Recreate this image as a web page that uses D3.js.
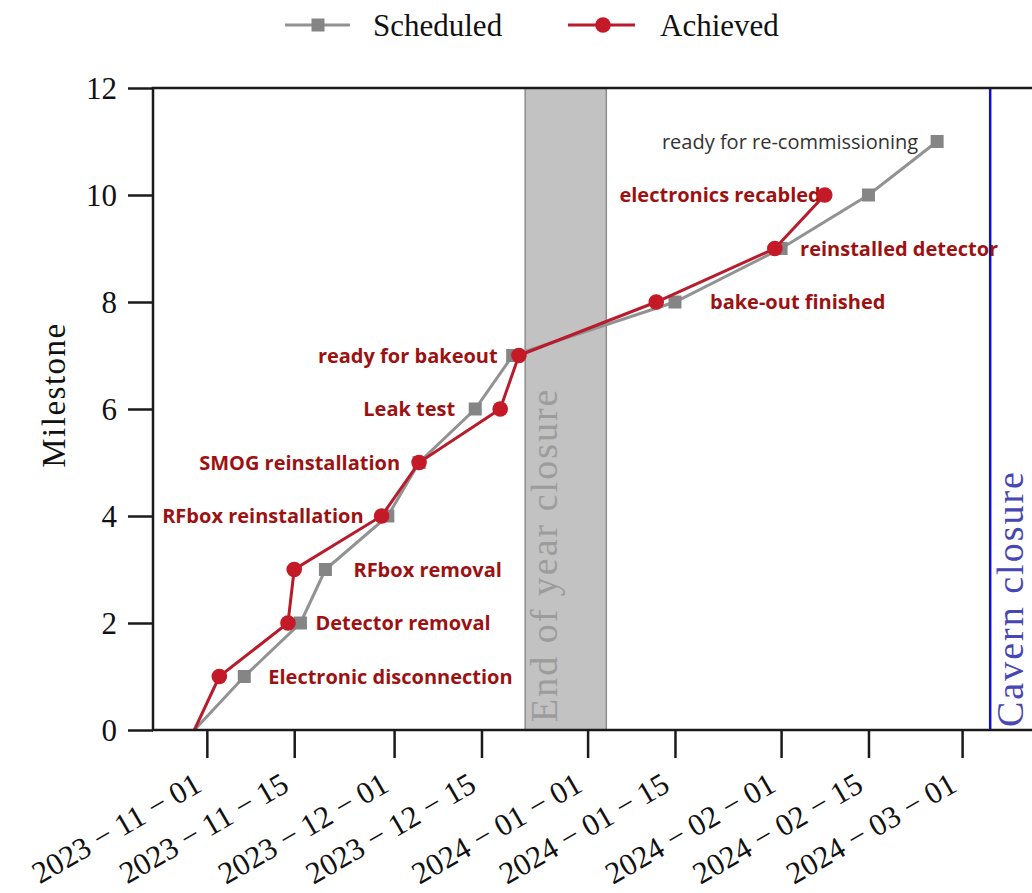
<!DOCTYPE html>
<html>
<head>
<meta charset="utf-8">
<script src="https://cdn.jsdelivr.net/npm/d3@7"></script>
<style>
  html, body { margin: 0; padding: 0; background: #fff; overflow: hidden; }
  svg { display: block; }
</style>
</head>
<body>
<svg id="chart" width="1032" height="893"></svg>
<script>
// ---- data ----
const scheduledDates = ["2023-10-30", "2023-11-07", "2023-11-16", "2023-11-20", "2023-11-30", "2023-12-05",
                        "2023-12-14", "2023-12-20", "2024-01-15", "2024-02-01", "2024-02-15", "2024-02-26"];
const scheduledMilestones = [0, 1, 2, 3, 4, 5, 6, 7, 8, 9, 10, 11];

const achievedDates = ["2023-10-30", "2023-11-03", "2023-11-14", "2023-11-15", "2023-11-29", "2023-12-05",
                       "2023-12-18", "2023-12-21", "2024-01-12", "2024-01-31", "2024-02-08"];
const achievedMilestones = [0, 1, 2, 3, 4, 5, 6, 7, 8, 9, 10];

const milestoneNames = ["Electronic disconnection", "Detector removal", "RFbox removal", "RFbox reinstallation",
                        "SMOG reinstallation", "Leak test", "ready for bakeout", "bake-out finished",
                        "reinstalled detector", "electronics recabled", "ready for re-commissioning"];

const xTickDates = ["2023-11-01", "2023-11-15", "2023-12-01", "2023-12-15", "2024-01-01",
                    "2024-01-15", "2024-02-01", "2024-02-15", "2024-03-01"];
const yTickValues = [0, 2, 4, 6, 8, 10, 12];

const closureBand = ["2023-12-22", "2024-01-04"];
const cavernClosure = "2024-03-05T12:00";
const xExtent = ["2023-10-23T09:00", "2024-03-13T00:00"];
const yExtent = [0, 12];

(function draw() {
  const parse = d3.timeParse("%Y-%m-%d");
  const parseT = d3.timeParse("%Y-%m-%dT%H:%M");
  const toDate = s => parse(s) || parseT(s);

  const svg = d3.select("#chart");
  const plotLeft = 153, plotRight = 1037, plotTop = 88, plotBottom = 730;

  const x = d3.scaleTime().domain(xExtent.map(toDate)).range([plotLeft, plotRight]);
  const y = d3.scaleLinear().domain(yExtent).range([plotBottom, plotTop]);

  const serif = "'Liberation Serif', 'Times New Roman', serif";
  const sans = "'Open Sans', 'Noto Sans', sans-serif";
  const RED = "#c41a28", RED_LINE = "#b81c2c", LABEL_RED = "#9c1212";
  const GRAY = "#858585", GRAY_LINE = "#929292";

  const scheduled = scheduledDates.map((d, i) => ({ date: toDate(d), m: scheduledMilestones[i] }));
  const achieved = achievedDates.map((d, i) => ({ date: toDate(d), m: achievedMilestones[i] }));

  // end-of-year closure band
  const b0 = x(toDate(closureBand[0])), b1 = x(toDate(closureBand[1]));
  const band = svg.append("g");
  band.append("rect")
    .attr("x", b0).attr("y", plotTop)
    .attr("width", b1 - b0).attr("height", plotBottom - plotTop)
    .attr("fill", "#c2c2c2").attr("stroke", "#8c8c8c").attr("stroke-width", 1.5);
  band.append("text")
    .attr("transform", `translate(${b0 + 32},${plotBottom - 8}) rotate(-90)`)
    .attr("font-family", serif).attr("font-size", 38).attr("letter-spacing", 2)
    .attr("fill", "#9c9c9c")
    .text("End of year closure");

  // cavern closure marker
  const cx = x(toDate(cavernClosure));
  svg.append("line")
    .attr("x1", cx).attr("x2", cx).attr("y1", plotTop).attr("y2", plotBottom)
    .attr("stroke", "#1010cc").attr("stroke-width", 2.5);
  svg.append("text")
    .attr("transform", `translate(${cx + 33},${plotBottom - 3}) rotate(-90)`)
    .attr("font-family", serif).attr("font-size", 38).attr("letter-spacing", 2)
    .attr("fill", "#4646b4")
    .text("Cavern closure");

  // milestone annotations (drawn under the markers)
  // s: series the label hangs off, dx: horizontal offset in px
  const labelLayout = [
    { s: "sch", dx: 24, anchor: "start" },
    { s: "sch", dx: 15, anchor: "start" },
    { s: "sch", dx: 28, anchor: "start" },
    { s: "ach", dx: -18, anchor: "end" },
    { s: "ach", dx: -19, anchor: "end" },
    { s: "sch", dx: -20, anchor: "end" },
    { s: "sch", dx: -15, anchor: "end" },
    { s: "sch", dx: 35, anchor: "start" },
    { s: "sch", dx: 19, anchor: "start" },
    { s: "ach", dx: -4, anchor: "end" },
    { s: "sch", dx: -19, anchor: "end", plain: true }
  ];
  const labels = svg.append("g");
  milestoneNames.forEach((name, i) => {
    const L = labelLayout[i];
    const p = (L.s === "sch" ? scheduled : achieved)[i + 1];
    labels.append("text")
      .attr("x", x(p.date) + L.dx)
      .attr("y", y(p.m))
      .attr("dy", "0.35em")
      .attr("text-anchor", L.anchor)
      .attr("font-family", sans)
      .attr("font-size", 20)
      .attr("font-weight", L.plain ? 400 : 700)
      .attr("fill", L.plain ? "#333" : LABEL_RED)
      .text(name);
  });

  // series
  const line = d3.line().x(d => x(d.date)).y(d => y(d.m));

  svg.append("path").datum(scheduled)
    .attr("d", line).attr("fill", "none")
    .attr("stroke", GRAY_LINE).attr("stroke-width", 3);
  svg.append("g").selectAll("rect").data(scheduled.slice(1)).join("rect")
    .attr("x", d => x(d.date) - 6.5).attr("y", d => y(d.m) - 6.5)
    .attr("width", 13).attr("height", 13).attr("fill", GRAY);

  svg.append("path").datum(achieved)
    .attr("d", line).attr("fill", "none")
    .attr("stroke", RED_LINE).attr("stroke-width", 3);
  svg.append("g").selectAll("circle").data(achieved.slice(1)).join("circle")
    .attr("cx", d => x(d.date)).attr("cy", d => y(d.m))
    .attr("r", 7.8).attr("fill", RED);

  // frame
  svg.append("rect")
    .attr("x", plotLeft).attr("y", plotTop)
    .attr("width", plotRight - plotLeft).attr("height", plotBottom - plotTop)
    .attr("fill", "none").attr("stroke", "#1a1a1a").attr("stroke-width", 2.5);

  // axes
  const fmtDate = d3.timeFormat("%Y \u2212 %m \u2212 %d");
  const xAxis = svg.append("g")
    .attr("transform", `translate(0,${plotBottom})`)
    .call(d3.axisBottom(x).tickValues(xTickDates.map(toDate)).tickSize(28).tickSizeOuter(0).tickFormat(fmtDate));
  xAxis.select(".domain").remove();
  xAxis.selectAll(".tick line").attr("stroke", "#1a1a1a").attr("stroke-width", 2.5);
  xAxis.selectAll(".tick text")
    .attr("font-family", serif).attr("font-size", 31).attr("fill", "#111")
    .attr("text-anchor", "end")
    .attr("x", 0).attr("y", 0).attr("dy", 0)
    .attr("transform", "translate(-4,60) rotate(-30)");

  const yAxis = svg.append("g")
    .attr("transform", `translate(${plotLeft},0)`)
    .call(d3.axisLeft(y).tickValues(yTickValues).tickSize(25).tickSizeOuter(0).tickFormat(d3.format("d")));
  yAxis.select(".domain").remove();
  yAxis.selectAll(".tick line").attr("stroke", "#1a1a1a").attr("stroke-width", 2.5);
  yAxis.selectAll(".tick text")
    .attr("font-family", serif).attr("font-size", 31).attr("fill", "#111")
    .attr("x", -36).attr("dy", "0.34em");

  svg.append("text")
    .attr("transform", "translate(65,395) rotate(-90)")
    .attr("text-anchor", "middle")
    .attr("font-family", serif).attr("font-size", 33).attr("letter-spacing", 1.5)
    .attr("fill", "#111")
    .text("Milestone");

  // legend
  const legend = svg.append("g");
  legend.append("line").attr("x1", 285).attr("x2", 350).attr("y1", 25).attr("y2", 25)
    .attr("stroke", GRAY_LINE).attr("stroke-width", 3);
  legend.append("rect").attr("x", 318 - 6.5).attr("y", 25 - 6.5).attr("width", 13).attr("height", 13).attr("fill", GRAY);
  legend.append("text").attr("x", 373).attr("y", 36)
    .attr("font-family", serif).attr("font-size", 31).attr("fill", "#111").text("Scheduled");
  legend.append("line").attr("x1", 568).attr("x2", 635).attr("y1", 25).attr("y2", 25)
    .attr("stroke", RED_LINE).attr("stroke-width", 3);
  legend.append("circle").attr("cx", 603).attr("cy", 25).attr("r", 7.8).attr("fill", RED);
  legend.append("text").attr("x", 660).attr("y", 36)
    .attr("font-family", serif).attr("font-size", 31).attr("fill", "#111").text("Achieved");
})();
</script>
</body>
</html>
